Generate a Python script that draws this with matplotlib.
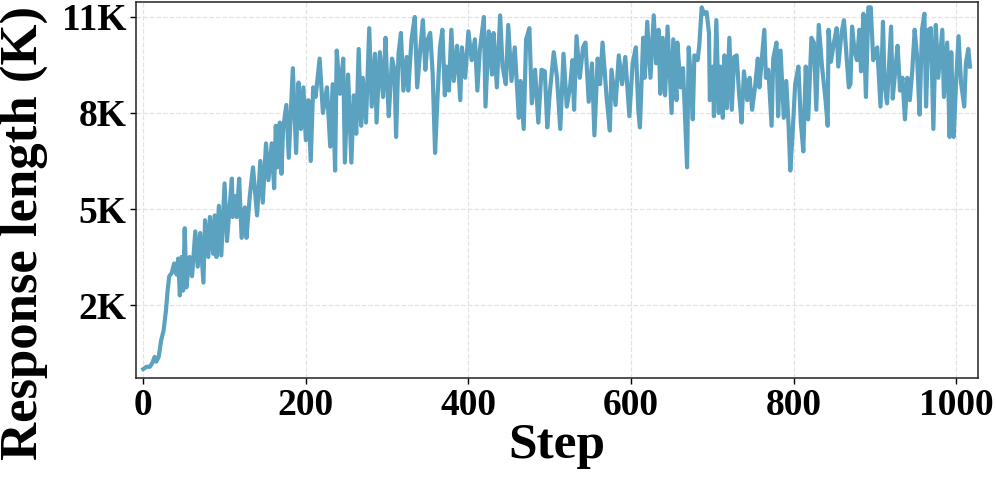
import matplotlib
matplotlib.use("Agg")
import matplotlib.pyplot as plt

steps = [0, 4, 8, 11, 14, 16, 19, 22, 25, 28, 30, 32, 35, 38, 41, 43, 45, 47, 49, 51, 53, 57, 60, 64, 67, 70, 74, 76, 80, 82, 86, 88, 90, 93, 96, 100, 103, 106, 109, 110, 113, 115, 118, 121, 125, 127, 131, 135, 140, 144, 147, 151, 154, 158, 161, 163, 165, 168, 170, 172, 176, 179, 184, 188, 191, 194, 197, 200, 203, 206, 209, 212, 217, 221, 226, 230, 233, 236, 238, 242, 246, 248, 252, 256, 259, 262, 265, 268, 270, 274, 278, 281, 285, 287, 291, 295, 298, 300, 302, 306, 309, 311, 314, 317, 320, 324, 326, 330, 334, 337, 341, 344, 347, 350, 353, 356, 359, 362, 365, 368, 371, 373, 376, 379, 382, 386, 390, 392, 396, 400, 404, 408, 411, 414, 419, 421, 425, 429, 431, 435, 439, 442, 446, 449, 453, 457, 462, 464, 468, 471, 475, 478, 482, 486, 490, 494, 497, 500, 505, 509, 513, 517, 521, 525, 528, 530, 533, 537, 541, 544, 548, 552, 555, 559, 562, 565, 570, 574, 576, 581, 585, 589, 593, 598, 602, 606, 609, 611, 615, 617, 620, 624, 628, 631, 634, 636, 639, 642, 645, 650, 652, 656, 657, 661, 664, 666, 669, 671, 674, 676, 678, 682, 684, 687, 690, 693, 696, 697, 701, 702, 705, 708, 710, 713, 715, 718, 721, 724, 727, 730, 733, 736, 739, 743, 746, 749, 753, 756, 758, 761, 764, 766, 769, 773, 775, 779, 781, 784, 788, 791, 794, 796, 799, 802, 806, 809, 812, 815, 818, 822, 825, 828, 831, 835, 839, 842, 843, 846, 849, 853, 855, 859, 862, 865, 868, 870, 872, 875, 878, 881, 883, 886, 889, 892, 895, 898, 901, 903, 907, 910, 912, 915, 917, 920, 922, 925, 928, 931, 934, 937, 940, 943, 946, 949, 952, 955, 958, 961, 963, 966, 969, 972, 975, 978, 983, 985, 989, 992, 994, 997, 1000, 1003, 1006, 1010, 1012, 1015, 1017]

length_k = [0.0, 0.07, 0.07, 0.18, 0.38, 0.23, 0.38, 0.9, 1.2, 1.85, 2.47, 2.9, 3.0, 3.3, 2.95, 3.45, 2.3, 3.5, 2.45, 4.4, 2.55, 3.5, 2.9, 4.3, 3.2, 4.25, 2.7, 4.65, 3.5, 4.75, 3.6, 4.8, 3.5, 5.1, 3.55, 5.8, 4.0, 5.0, 5.95, 4.75, 5.4, 4.75, 5.95, 4.1, 5.05, 4.1, 5.4, 6.3, 4.8, 6.5, 5.2, 7.05, 5.9, 7.05, 5.65, 7.6, 6.3, 7.7, 6.1, 7.5, 8.25, 6.6, 9.4, 6.75, 8.95, 7.5, 8.8, 7.15, 8.4, 6.5, 8.8, 8.5, 9.7, 8.0, 8.8, 6.95, 8.9, 6.2, 9.95, 8.6, 9.7, 6.45, 9.2, 6.45, 8.55, 7.35, 10.0, 7.6, 9.1, 7.7, 10.65, 8.2, 9.85, 7.7, 9.9, 8.5, 10.35, 9.0, 7.9, 9.7, 9.35, 7.25, 9.85, 10.5, 8.7, 9.75, 8.7, 10.3, 11.0, 8.8, 10.05, 10.9, 9.35, 10.3, 10.5, 9.25, 6.75, 8.5, 10.05, 10.6, 8.55, 9.45, 8.7, 10.6, 9.0, 10.1, 8.4, 10.05, 9.1, 10.55, 9.65, 10.3, 8.7, 9.95, 11.0, 8.2, 10.55, 9.2, 10.5, 8.8, 11.05, 9.45, 8.9, 10.75, 9.0, 10.05, 7.85, 9.0, 7.5, 10.3, 10.65, 8.3, 9.35, 7.7, 9.35, 9.3, 7.55, 8.6, 9.9, 9.1, 7.5, 9.85, 8.2, 8.8, 9.65, 8.1, 10.4, 9.1, 10.05, 10.2, 8.35, 9.55, 7.3, 9.7, 8.9, 10.2, 8.5, 7.45, 9.35, 8.25, 9.8, 8.9, 9.75, 7.9, 9.55, 10.05, 8.1, 7.55, 10.35, 9.1, 10.85, 9.1, 11.05, 9.55, 10.6, 8.6, 10.35, 8.55, 10.7, 8.0, 10.3, 8.4, 10.2, 8.8, 9.4, 8.2, 6.3, 10.05, 8.9, 7.8, 9.8, 9.65, 10.1, 11.3, 11.1, 11.15, 10.5, 8.4, 9.45, 7.9, 10.9, 8.0, 9.45, 7.85, 9.8, 8.15, 10.35, 8.1, 9.75, 9.8, 8.6, 7.7, 9.3, 8.4, 9.1, 8.1, 8.9, 9.7, 8.8, 9.7, 10.6, 9.1, 9.35, 7.6, 9.7, 10.2, 7.9, 9.95, 7.85, 9.0, 7.55, 6.2, 7.45, 8.9, 9.45, 7.7, 6.8, 9.45, 7.8, 10.35, 10.2, 8.1, 10.75, 9.45, 8.5, 7.6, 10.6, 9.6, 10.1, 10.65, 9.45, 10.5, 10.9, 9.85, 8.8, 8.9, 10.7, 9.95, 9.65, 10.6, 9.3, 11.1, 8.5, 11.3, 11.3, 9.65, 9.95, 10.05, 8.2, 10.85, 8.9, 8.3, 9.25, 10.7, 8.45, 9.3, 10.1, 8.7, 9.1, 7.8, 9.1, 8.4, 9.3, 10.6, 9.75, 7.95, 10.6, 11.1, 8.2, 10.6, 10.65, 7.5, 10.75, 9.1, 10.6, 8.5, 10.2, 7.25, 9.9, 7.25, 9.0, 10.4, 8.95, 8.2, 9.55, 10.0, 9.45]

x_ticks = [0, 200, 400, 600, 800, 1000]
y_ticks = [2, 5, 8, 11]
y_tick_labels = ["2K", "5K", "8K", "11K"]

FONT = ["Liberation Serif", "DejaVu Serif"]
plt.rcParams["font.family"] = FONT
plt.rcParams["font.weight"] = "bold"

fig = plt.figure(figsize=(9.96, 4.8), dpi=100)
ax = fig.add_axes([0.1365, 0.2125, 0.8455, 0.7835])

ax.plot(steps, length_k, color="#5BA1C0", linewidth=3.0, solid_joinstyle="round")

ax.set_xlim(-9, 1027)
ax.set_ylim(-0.28, 11.47)
ax.set_xticks(x_ticks)
ax.set_yticks(y_ticks)
ax.set_yticklabels(y_tick_labels)
ax.tick_params(axis="both", labelsize=27, length=4, width=1, pad=3)
for lab in ax.get_xticklabels() + ax.get_yticklabels():
    lab.set_fontweight("bold")

ax.grid(True, linestyle="--", color="#dddddd", linewidth=0.9, alpha=0.8)
ax.set_axisbelow(True)
for s in ax.spines.values():
    s.set_linewidth(1.1)
    s.set_color("#222222")

ax.set_xlabel("Step", fontsize=37, fontweight="bold", labelpad=0)
ax.set_ylabel("Response length (K)", fontsize=38, fontweight="bold")
ax.yaxis.set_label_coords(-0.1045, 0.385)

fig.savefig("out.png", dpi=100)
